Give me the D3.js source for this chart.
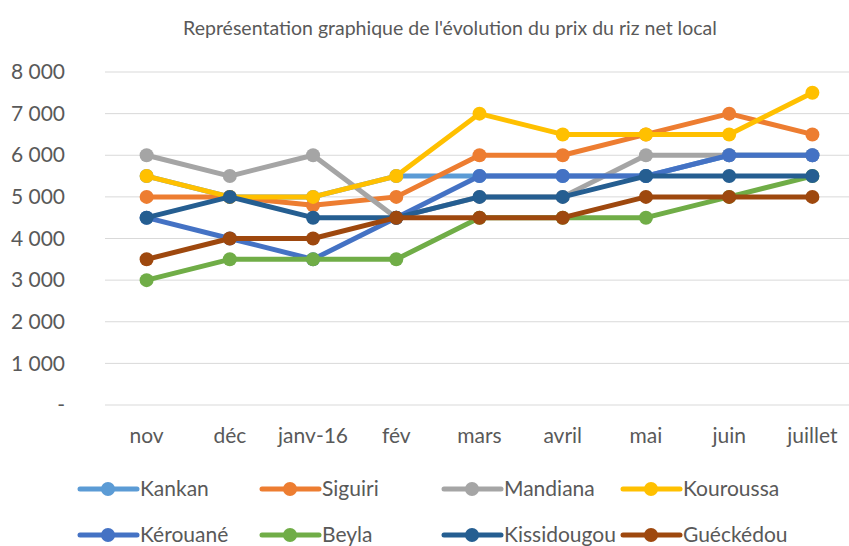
<!DOCTYPE html>
<html>
<head>
<meta charset="utf-8">
<script src="https://cdn.jsdelivr.net/npm/d3@7"></script>
<style>
  body { margin: 0; background: #fff; }
  svg text { font-family: Lato, "Open Sans", sans-serif; fill: #595959; }
</style>
</head>
<body>
<svg id="chart" width="849" height="546"></svg>
<script>
const months = ["nov", "déc", "janv-16", "fév", "mars", "avril", "mai", "juin", "juillet"];
const yTicks = [0, 1000, 2000, 3000, 4000, 5000, 6000, 7000, 8000];

const kankan      = [5500, 5000, 5000, 5500, 5500, 5500, 5500, 6000, 6000];
const siguiri     = [5000, 5000, 4800, 5000, 6000, 6000, 6500, 7000, 6500];
const mandiana    = [6000, 5500, 6000, 4500, 5000, 5000, 6000, 6000, 6000];
const kouroussa   = [5500, 5000, 5000, 5500, 7000, 6500, 6500, 6500, 7500];
const kerouane    = [4500, 4000, 3500, 4500, 5500, 5500, 5500, 6000, 6000];
const beyla       = [3000, 3500, 3500, 3500, 4500, 4500, 4500, 5000, 5500];
const kissidougou = [4500, 5000, 4500, 4500, 5000, 5000, 5500, 5500, 5500];
const gueckedou   = [3500, 4000, 4000, 4500, 4500, 4500, 5000, 5000, 5000];

const series = [
  {name: "Kankan", values: kankan, color: "#5b9bd5"},
  {name: "Siguiri", values: siguiri, color: "#ed7d31"},
  {name: "Mandiana", values: mandiana, color: "#a5a5a5"},
  {name: "Kouroussa", values: kouroussa, color: "#ffc000"},
  {name: "Kérouané", values: kerouane, color: "#4472c4"},
  {name: "Beyla", values: beyla, color: "#70ad47"},
  {name: "Kissidougou", values: kissidougou, color: "#255e91"},
  {name: "Guéckédou", values: gueckedou, color: "#9e480e"}
];

const svg = d3.select("#chart");
const margin = {left: 105, right: 854, top: 72, bottom: 405};

const x = d3.scaleBand().domain(months).range([margin.left, margin.right]);
const y = d3.scaleLinear().domain([0, 8000]).range([margin.bottom, margin.top]);
const fmt = v => v === 0 ? "-" : d3.format(",")(v).replace(",", " ");

svg.append("text").attr("x", 450).attr("y", 35).attr("text-anchor", "middle")
  .style("font-size", "19.5px").text("Représentation graphique de l'évolution du prix du riz net local");

// grid
svg.append("g").selectAll("line").data(yTicks).join("line")
  .attr("x1", margin.left).attr("x2", margin.right)
  .attr("y1", d => y(d)).attr("y2", d => y(d))
  .attr("stroke", "#d9d9d9").attr("stroke-width", 1);

// y axis labels
const yAxis = svg.append("g").attr("transform", `translate(${margin.left},0)`)
  .call(d3.axisLeft(y).tickValues(yTicks).tickFormat(fmt).tickSize(0).tickPadding(40));
yAxis.select(".domain").remove();
yAxis.selectAll("text").style("font-size", "21px").attr("fill", "#595959");

// x axis labels
const xAxis = svg.append("g").attr("transform", `translate(0,${margin.bottom})`)
  .call(d3.axisBottom(x).tickSize(0).tickPadding(23));
xAxis.select(".domain").remove();
xAxis.selectAll("text").style("font-size", "21px").attr("fill", "#595959");

const cx = d => x(d) + x.bandwidth() / 2;
const line = d3.line().x((d, i) => cx(months[i])).y(d => y(d));

series.forEach(s => {
  const g = svg.append("g");
  g.append("path").datum(s.values).attr("d", line)
    .attr("fill", "none").attr("stroke", s.color).attr("stroke-width", 5)
    .attr("stroke-linejoin", "round");
  g.selectAll("circle").data(s.values).join("circle")
    .attr("cx", (d, i) => cx(months[i])).attr("cy", d => y(d)).attr("r", 7)
    .attr("fill", s.color);
});

// legend
const legX = [80, 262, 444, 623];
const legY = [489, 535];
const leg = svg.append("g").selectAll("g").data(series).join("g")
  .attr("transform", (d, i) => `translate(${legX[i % 4]},${legY[Math.floor(i / 4)]})`);
leg.append("line").attr("x1", 0).attr("x2", 57).attr("stroke", d => d.color)
  .attr("stroke-width", 5).attr("stroke-linecap", "round");
leg.append("circle").attr("cx", 28).attr("r", 7).attr("fill", d => d.color);
leg.append("text").attr("x", 60).attr("dy", "0.35em").style("font-size", "21px").text(d => d.name);
</script>
</body>
</html>
